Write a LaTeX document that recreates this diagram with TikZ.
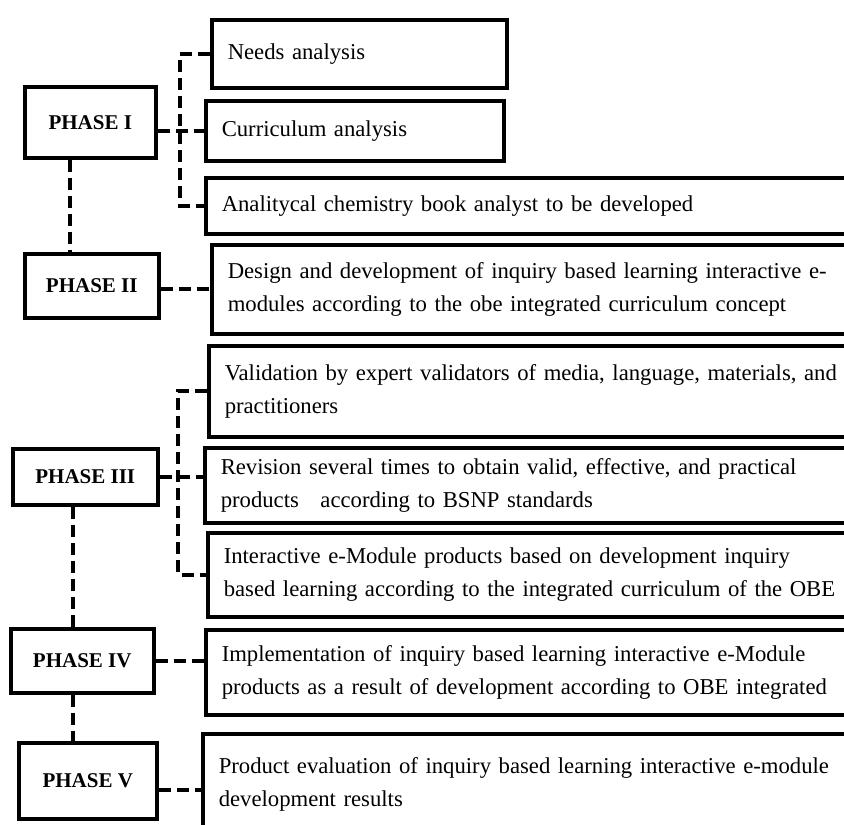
\documentclass[tikz,border=0pt]{standalone}
\usepackage{fontspec}
\setmainfont{Liberation Serif}
\usetikzlibrary{calc}
\newcommand{\itemfont}{\fontsize{22.7}{33}\selectfont}
\newcommand{\phasefont}{\fontsize{21}{25}\selectfont\bfseries}
\tikzset{
  itembox/.style={draw, line width=3.5pt, anchor=north west, inner xsep=16pt, inner ysep=0pt, align=left, font=\itemfont},
  phasebox/.style={draw, line width=3.5pt, anchor=north west, inner sep=0pt, align=center, font=\phasefont},
  conn/.style={line width=4pt, dash pattern=on 12pt off 6pt}
}
\begin{document}
\begin{tikzpicture}[x=1pt,y=-1pt]
\useasboundingbox (0,0) rectangle (844,825);
\clip (0,0) rectangle (844,825);
\fill[white] (0,0) rectangle (844,825);
% phase boxes
\node[phasebox, minimum width=131pt, minimum height=71pt] (p1) at (23,85) {PHASE I};
\node[phasebox, minimum width=134pt, minimum height=64pt] (p2) at (23,252) {PHASE II};
\node[phasebox, minimum width=145pt, minimum height=56pt] (p3) at (11,447) {PHASE III};
\node[phasebox, minimum width=143pt, minimum height=64pt] (p4) at (9,627) {PHASE IV};
\node[phasebox, minimum width=138pt, minimum height=76pt] (p5) at (17,741) {PHASE V};
% item boxes
\node[itembox, text width=263pt, minimum height=68pt] (needs) at (210,18) {Needs analysis};
\node[itembox, text width=266pt, minimum height=60pt] (cur) at (204,99) {Curriculum analysis};
\node[itembox, text width=630pt, minimum height=56pt] (anal) at (204,176) {Analitycal chemistry book analyst to be developed};
\node[itembox, text width=630pt, minimum height=89pt] (des) at (210,243) {Design and development of inquiry based learning interactive e-\\modules according to the obe integrated curriculum concept};
\node[itembox, text width=630pt, minimum height=91pt] (val) at (207,344) {Validation by expert validators of media, language, materials, and\\practitioners};
\node[itembox, text width=630pt, minimum height=75pt] (rev) at (203,446) {Revision several times to obtain valid, effective, and practical\\products\hspace{14pt} according to BSNP standards};
\node[itembox, text width=630pt, minimum height=84pt] (int) at (206,531) {Interactive e-Module products based on development inquiry\\based learning according to the integrated curriculum of the OBE};
\node[itembox, text width=630pt, minimum height=85pt] (imp) at (204,628) {Implementation of inquiry based learning interactive e-Module\\products as a result of development according to OBE integrated};
\node[itembox, text width=630pt, minimum height=102pt] (prod) at (201,732) {Product evaluation of inquiry based learning interactive e-module\\development results};
% connectors phase I
\draw[conn] (p1.east |- cur.west) -- (cur.west);
\draw[conn] (needs.west) -- ++(-30,0) |- (anal.west);
% phase II
\draw[conn] (p2.east |- des.west) -- (des.west);
% phase III
\draw[conn] (p3.east) -- (p3.east -| rev.west);
\draw[conn] (val.west) -- ++(-29,0) |- (int.west);
% phase IV, V
\draw[conn] (p4.east) -- (p4.east -| imp.west);
\coordinate (h5) at ([yshift=-9pt]p5.east);
\draw[conn] (h5) -- (h5 -| prod.west);
% vertical links
\coordinate (v1) at ([xshift=47pt]p1.south west);
\draw[conn] (v1) -- (v1 |- p2.north);
\coordinate (v3) at ([xshift=62pt]p3.south west);
\draw[conn] (v3) -- (v3 |- p4.north);
\coordinate (v4) at ([xshift=64pt]p4.south west);
\draw[conn] (v4) -- (v4 |- p5.north);
\end{tikzpicture}
\end{document}
